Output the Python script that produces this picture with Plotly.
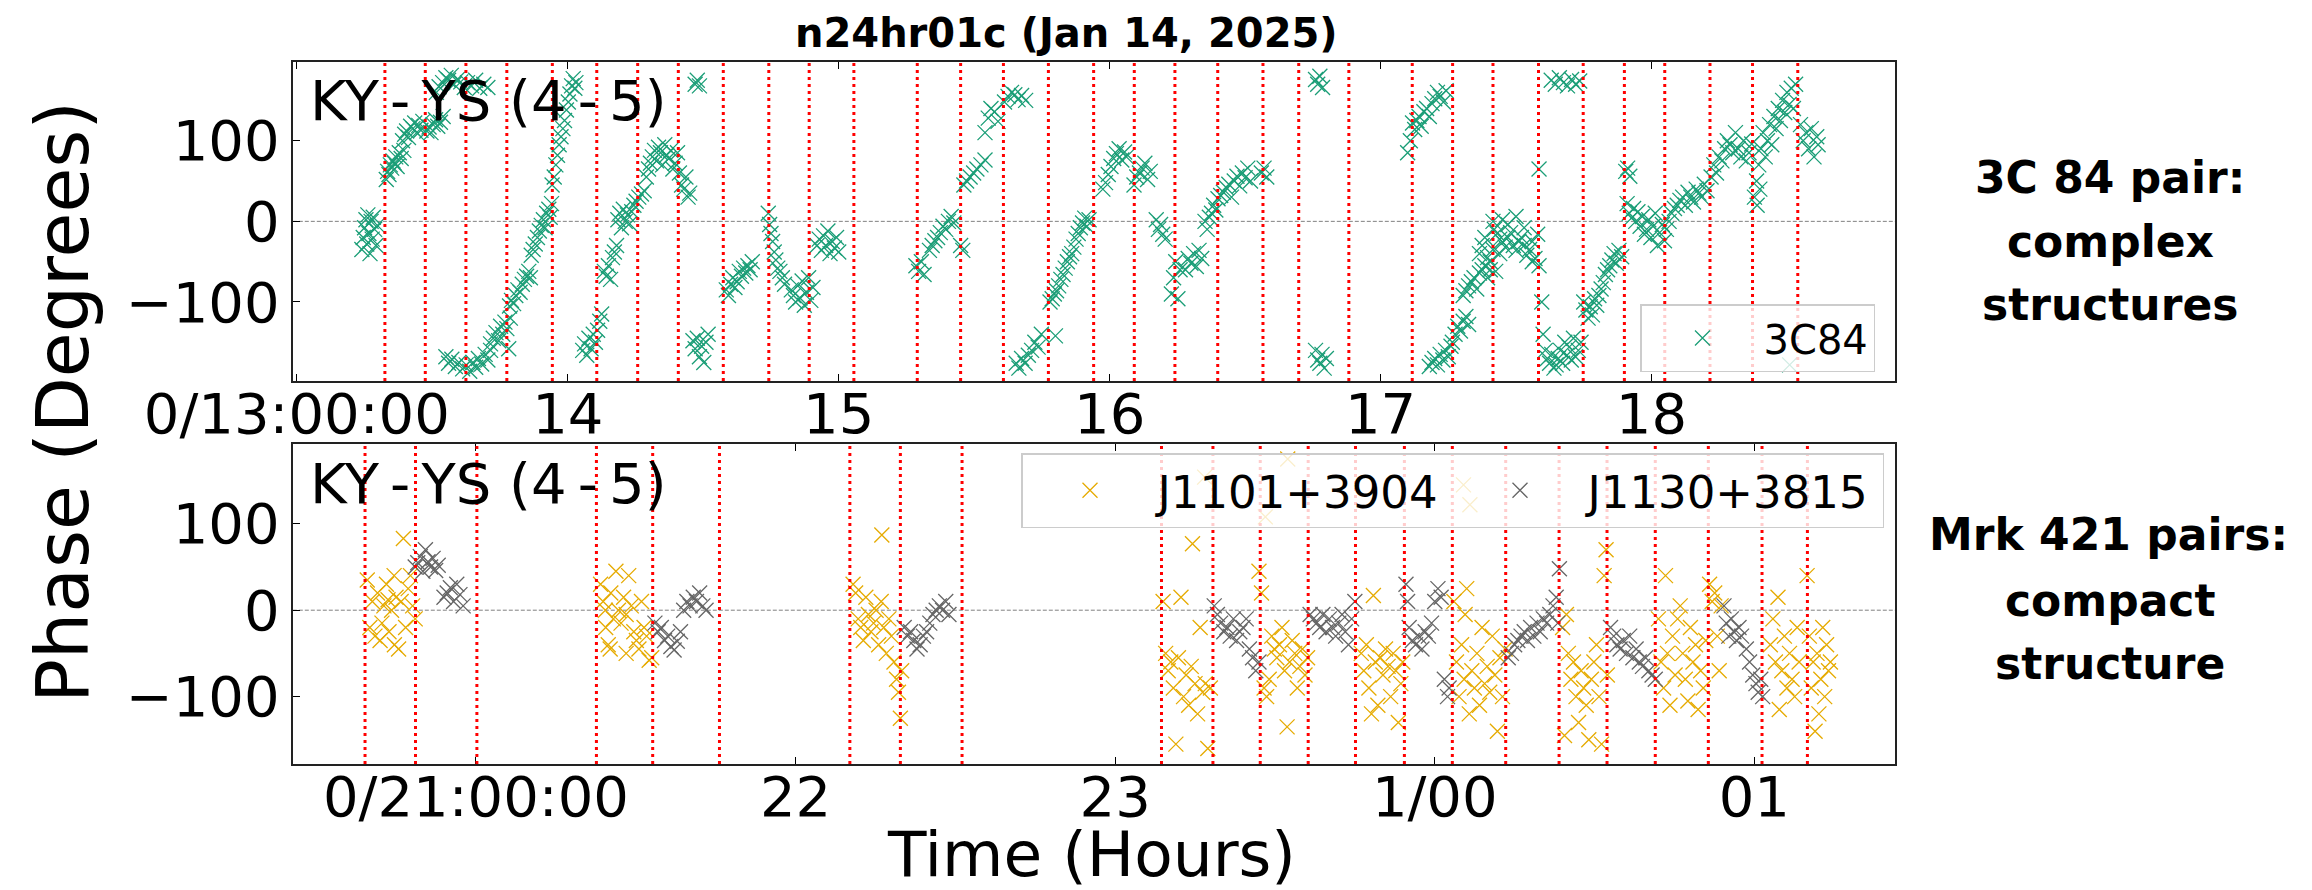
import plotly.graph_objects as go

W, H = 2312, 890

# ---------------- data ----------------
top_tickvals = [13, 14, 15, 16, 17, 18]
top_ticktext = ["0/13:00:00", "14", "15", "16", "17", "18"]
bot_tickvals = [21, 22, 23, 24, 25]
bot_ticktext = ["0/21:00:00", "22", "23", "1/00", "01"]
y_tickvals = [-100, 0, 100]
y_ticktext = ["\u2212100", "0", "100"]

top_scan_lines = [13.325, 13.474, 13.624, 13.775, 13.943, 14.107, 14.258, 14.408, 14.574, 14.742, 14.891,
                  15.056, 15.290, 15.450, 15.608, 15.774, 15.941, 16.091, 16.241, 16.399, 16.566, 16.698, 16.883,
                  17.117, 17.266, 17.415, 17.583, 17.748, 17.900, 18.049, 18.216, 18.373, 18.540]
bot_scan_lines = [20.653, 20.811, 21.003, 21.377, 21.553, 21.762, 22.170, 22.328, 22.521, 23.145, 23.306,
                  23.454, 23.604, 23.752, 23.905, 24.055, 24.222, 24.389, 24.539, 24.690, 24.856, 25.024, 25.166]

c84_points = [
    (13.240,-35),(13.245,-20),(13.250,-8),(13.255,2),(13.258,-28),(13.262,8),(13.266,-15),(13.270,-40),(13.274,0),(13.278,-22),(13.282,5),(13.287,-10),(13.292,-30),(13.297,-5),
    (13.330,52),(13.335,62),(13.340,58),(13.345,70),(13.350,66),(13.355,75),(13.360,72),(13.365,80),(13.370,68),(13.378,85),(13.385,78),(13.395,88),
    (13.390,100),(13.398,108),(13.405,112),(13.412,104),(13.420,118),(13.428,115),(13.435,122),(13.442,110),(13.450,119),(13.458,113),(13.465,124),
    (13.480,112),(13.488,117),(13.495,110),(13.503,120),(13.512,126),(13.520,118),(13.530,123),(13.540,130),
    (13.515,160),(13.525,167),(13.538,172),(13.550,178),(13.560,175),(13.570,181),(13.580,170),(13.592,176),(13.605,173),(13.618,166),(13.630,172),(13.645,168),(13.660,175),(13.675,165),(13.690,170),(13.705,166),
    (13.550,-168),(13.560,-176),(13.572,-171),(13.585,-180),(13.598,-175),(13.612,-183),(13.625,-178),(13.638,-186),(13.650,-175),(13.660,-181),(13.670,-170),(13.682,-177),(13.695,-165),(13.705,-172),(13.715,-160),
    (13.715,-152),(13.725,-145),(13.735,-138),(13.745,-148),(13.752,-130),(13.760,-140),(13.768,-125),(13.775,-133),(13.782,-158),(13.788,-120),
    (13.785,-105),(13.792,-98),(13.800,-102),(13.808,-92),(13.816,-85),(13.824,-88),(13.832,-78),(13.840,-72),(13.848,-68),(13.856,-62),(13.862,-70),
    (13.865,-42),(13.872,-35),(13.880,-28),(13.888,-20),(13.895,-12),(13.902,-5),(13.910,2),(13.916,-8),(13.922,10),(13.930,15),(13.935,5),(13.940,22),
    (13.942,45),(13.950,55),(13.956,70),(13.962,82),(13.968,95),(13.975,105),(13.982,115),(13.988,125),(13.995,138),(14.002,148),(14.008,158),(14.014,168),(14.020,177),(14.026,165),(14.030,172),
    (14.055,-160),(14.062,-152),(14.070,-166),(14.078,-145),(14.086,-158),(14.094,-140),(14.102,-150),(14.110,-135),(14.118,-124),(14.125,-115),
    (14.135,-62),(14.142,-68),(14.150,-55),(14.158,-72),(14.165,-45),(14.172,-38),(14.180,-30),
    (14.185,2),(14.192,10),(14.198,-8),(14.205,15),(14.212,0),(14.220,8),(14.228,-3),(14.236,12),(14.244,20),
    (14.252,25),(14.262,30),(14.272,34),(14.282,38),
    (14.290,55),(14.298,65),(14.305,72),(14.312,80),(14.320,88),(14.328,75),(14.335,92),(14.342,85),(14.350,70),(14.358,95),(14.365,82),(14.372,78),(14.380,88),(14.388,65),(14.396,72),
    (14.405,85),(14.412,60),(14.420,45),(14.428,40),(14.436,55),(14.444,30),(14.450,35),
    (14.470,170),(14.478,175),(14.486,168),
    (14.462,-148),(14.470,-158),(14.478,-145),(14.486,-168),(14.494,-155),(14.502,-175),(14.510,-150),(14.518,-140),
    (14.585,-85),(14.593,-92),(14.601,-78),(14.609,-70),(14.617,-82),(14.625,-75),(14.633,-62),(14.641,-68),(14.649,-58),(14.657,-64),(14.665,-55),(14.673,-60),(14.681,-50),
    (14.740,10),(14.745,-4),(14.750,-15),(14.756,-25),(14.762,-38),(14.768,-48),(14.775,-58),(14.783,-62),(14.792,-70),(14.800,-78),
    (14.825,-85),(14.833,-92),(14.841,-100),(14.849,-80),(14.857,-95),(14.865,-74),(14.873,-104),(14.881,-88),(14.889,-70),(14.897,-98),(14.905,-82),
    (14.920,-30),(14.928,-22),(14.936,-36),(14.944,-18),(14.952,-30),(14.960,-12),(14.968,-40),(14.976,-25),(14.984,-33),(14.992,-20),(15.000,-38),
    (15.285,-55),(15.295,-62),(15.305,-50),(15.315,-66),
    (15.335,-36),(15.345,-30),(15.355,-24),(15.365,-20),(15.375,-14),(15.385,-6),(15.395,-10),(15.405,0),(15.415,6),(15.425,-2),
    (15.450,-30),(15.458,-36),
    (15.462,45),(15.472,50),(15.485,55),(15.498,60),(15.510,65),(15.525,70),(15.540,76),
    (15.540,110),(15.552,128),(15.562,140),(15.575,136),(15.588,124),
    (15.612,148),(15.625,155),(15.638,160),(15.650,157),(15.662,151),(15.675,156),(15.690,150),
    (15.655,-176),(15.665,-182),(15.675,-170),(15.688,-176),(15.700,-166),(15.712,-160),(15.724,-150),(15.736,-156),(15.748,-140),(15.800,-142),
    (15.780,-100),(15.788,-96),(15.796,-90),(15.804,-86),(15.812,-80),(15.820,-72),(15.828,-66),(15.836,-58),(15.844,-50),(15.852,-44),(15.860,-40),(15.868,-32),(15.876,-22),(15.884,-15),(15.892,-8),(15.900,-2),(15.908,4),(15.916,-6),(15.924,2),
    (15.975,40),(15.985,48),(15.995,58),(16.005,68),(16.015,78),(16.025,84),(16.035,90),(16.045,76),(16.055,86),(16.062,80),
    (16.090,45),(16.100,55),(16.110,60),(16.120,66),(16.130,72),(16.140,52),(16.150,62),
    (16.172,2),(16.180,-10),(16.188,-4),(16.196,-16),(16.205,-22),
    (16.228,-90),(16.236,-70),(16.244,-50),(16.252,-96),(16.260,-60),
    (16.280,-60),(16.290,-46),(16.300,-52),(16.310,-40),(16.320,-56),(16.330,-36),(16.340,-46),
    (16.352,0),(16.360,-10),(16.368,5),(16.376,10),(16.384,20),(16.392,14),(16.400,28),(16.410,32),
    (16.420,36),(16.430,42),(16.440,46),(16.450,30),(16.460,50),(16.470,56),(16.480,44),(16.490,60),(16.500,54),(16.510,66),(16.520,50),
    (16.560,60),(16.570,66),(16.580,55),
    (16.760,176),(16.768,170),(16.776,180),(16.786,166),
    (16.760,-160),(16.768,-172),(16.776,-176),(16.784,-165),(16.792,-182),(16.800,-170),
    (17.100,85),(17.110,100),(17.118,122),(17.126,114),(17.134,125),(17.142,130),(17.150,118),(17.160,136),(17.170,140),(17.180,130),(17.190,146),(17.200,152),(17.210,160),(17.220,155),(17.232,148),(17.242,162),
    (17.180,-180),(17.190,-175),(17.200,-170),(17.210,-178),(17.220,-165),(17.230,-172),(17.240,-160),(17.250,-168),(17.260,-155),
    (17.265,-150),(17.275,-140),(17.285,-130),(17.295,-136),(17.305,-124),(17.315,-118),(17.325,-128),
    (17.305,-92),(17.315,-86),(17.325,-80),(17.335,-75),(17.345,-70),(17.355,-84),(17.365,-64),(17.375,-60),(17.385,-55),(17.395,-70),(17.405,-60),
    (17.365,-40),(17.375,-30),(17.385,-20),(17.395,-45),(17.405,-50),(17.415,-35),(17.425,-62),(17.415,0),
    (17.420,-10),(17.430,-15),(17.440,-22),(17.450,-26),(17.460,-32),(17.470,-20),(17.480,-14),(17.490,-30),(17.500,-36),(17.510,-25),(17.520,-20),(17.530,-30),(17.540,-42),(17.550,-35),(17.560,-25),(17.570,-46),(17.580,-16),(17.450,2),(17.500,6),(17.470,-4),(17.440,-40),(17.530,-8),(17.560,-50),
    (17.585,65),(17.585,-55),(17.595,-100),
    (17.600,-140),(17.608,-160),(17.616,-170),(17.624,-176),(17.632,-165),(17.640,-182),(17.648,-178),(17.656,-170),(17.664,-160),(17.672,-176),(17.680,-150),(17.688,-166),(17.696,-156),(17.704,-172),(17.712,-145),(17.720,-168),(17.730,-160),(17.740,-150),
    (17.630,175),(17.645,170),(17.660,178),(17.675,172),(17.690,168),(17.705,176),(17.720,170),(17.735,174),
    (17.750,-100),(17.758,-110),(17.766,-120),(17.774,-106),(17.782,-116),(17.790,-96),(17.798,-104),(17.806,-92),(17.814,-84),(17.822,-76),(17.830,-66),(17.838,-60),(17.846,-55),(17.854,-48),(17.862,-40),(17.870,-52),(17.880,-36),(17.890,-44),
    (17.905,62),(17.912,66),(17.920,56),
    (17.910,22),(17.918,10),(17.926,4),(17.934,16),(17.942,0),(17.950,12),(17.958,-6),(17.966,6),(17.974,-16),(17.982,-10),(17.990,2),(17.998,-20),(18.006,-6),(18.014,10),(18.022,-30),(18.030,-14),(18.040,-4),(18.048,-24),
    (18.055,-10),(18.065,0),(18.075,10),(18.085,16),(18.095,20),(18.105,26),(18.115,30),(18.125,20),(18.135,36),(18.145,30),(18.155,24),(18.165,40),(18.175,35),(18.185,30),(18.195,46),(18.205,38),
    (18.220,55),(18.230,70),(18.240,60),(18.250,80),(18.260,75),(18.270,90),(18.280,100),(18.290,95),(18.300,85),(18.310,110),(18.320,90),(18.330,80),(18.340,100),(18.350,75),(18.360,85),(18.370,96),
    (18.380,30),(18.388,50),(18.396,70),(18.404,90),(18.412,110),(18.420,80),(18.428,100),(18.436,120),(18.444,95),(18.452,130),(18.460,115),(18.468,140),(18.476,125),(18.484,150),(18.492,135),(18.500,160),(18.508,145),(18.516,165),(18.524,140),(18.532,170),(18.390,20),(18.400,40),
    (18.550,120),(18.560,100),(18.570,110),(18.580,90),(18.590,115),(18.600,80),(18.610,105),(18.615,95),
    (18.510,-178),
]

j1101_points = [
    (20.660,35),(20.668,-20),(20.676,10),(20.684,-30),(20.692,20),(20.700,-35),(20.706,-15),(20.712,5),(20.720,30),(20.728,-25),(20.736,0),(20.744,40),(20.750,15),(20.758,-45),(20.766,10),(20.773,83),(20.780,-20),(20.788,25),(20.795,40),(20.802,5),(20.810,-10),(20.745,-40),(20.725,12),
    (21.390,30),(21.398,10),(21.406,-20),(21.414,-40),(21.422,20),(21.430,-10),(21.438,45),(21.446,0),(21.454,-15),(21.462,15),(21.470,-5),(21.478,40),(21.486,5),(21.494,-25),(21.502,-35),(21.510,-45),(21.518,10),(21.526,-20),(21.534,-30),(21.542,-58),(21.550,-55),(21.420,-45),(21.470,-50),(21.405,0),
    (22.180,30),(22.188,20),(22.196,-10),(22.204,-20),(22.212,-35),(22.220,15),(22.228,-5),(22.236,-25),(22.244,-15),(22.252,0),(22.260,-40),(22.268,10),(22.270,87),(22.276,-20),(22.284,-50),(22.292,-10),(22.300,-30),(22.308,-60),(22.316,-80),(22.322,-95),(22.328,-125),(22.332,-70),
    (23.150,10),(23.158,-50),(23.166,-70),(23.174,-60),(23.182,-90),(23.190,-155),(23.198,-55),(23.206,15),(23.214,-100),(23.222,-75),(23.230,-110),(23.238,-65),(23.242,77),(23.250,-85),(23.258,-120),(23.266,-20),(23.274,-95),(23.282,-85),(23.290,-160),(23.298,-90),(23.280,154),
    (23.450,45),(23.458,20),(23.466,-90),(23.474,-100),(23.482,-80),(23.490,-30),(23.498,-45),(23.506,-55),(23.514,-40),(23.522,-20),(23.530,-70),(23.538,-135),(23.546,-60),(23.554,-35),(23.562,-50),(23.570,-90),(23.578,-65),(23.586,-45),(23.594,-75),(23.602,-55),(23.470,108),(23.540,175),
    (23.770,-50),(23.778,-70),(23.786,-40),(23.794,-90),(23.802,-120),(23.808,17),(23.814,-60),(23.822,-110),(23.830,-55),(23.838,-75),(23.846,-45),(23.854,-65),(23.862,-100),(23.870,-50),(23.878,-70),(23.886,-130),(23.894,-85),(23.900,-60),
    (24.060,10),(24.068,-60),(24.076,-100),(24.084,-40),(24.092,-80),(24.095,-5),(24.100,25),(24.108,-120),(24.116,-70),(24.124,-90),(24.132,-50),(24.140,-110),(24.148,-20),(24.156,-85),(24.164,-65),(24.172,-95),(24.180,-30),(24.188,-75),(24.196,-140),(24.204,-55),(24.212,-100),(24.220,-45),(24.090,145),(24.110,122),
    (24.400,-20),(24.406,-145),(24.412,-5),(24.418,-50),(24.426,-80),(24.434,-60),(24.442,-100),(24.450,-130),(24.458,-70),(24.466,-90),(24.474,-110),(24.482,-150),(24.490,-80),(24.498,-60),(24.506,-40),(24.514,-100),(24.522,-155),(24.530,40),(24.536,70),(24.540,-75),
    (24.700,-10),(24.708,-60),(24.716,-90),(24.722,40),(24.728,-50),(24.736,-110),(24.744,-30),(24.752,-75),(24.760,-10),(24.768,5),(24.776,-50),(24.784,-80),(24.792,-105),(24.800,-20),(24.808,-60),(24.816,-40),(24.824,-115),(24.832,-70),(24.840,-90),(24.848,-35),
    (24.860,30),(24.868,10),(24.876,20),(24.884,-30),(24.890,-70),(24.896,5),
    (25.050,-40),(25.058,-10),(25.066,-60),(25.074,15),(25.078,-115),(25.086,-70),(25.094,-30),(25.102,-90),(25.110,-50),(25.118,-80),(25.126,-100),(25.134,-20),(25.140,-60),
    (25.165,40),(25.172,-30),(25.178,-90),(25.184,-60),(25.190,-140),(25.196,-50),(25.202,-120),(25.208,-80),(25.214,-20),(25.220,-100),(25.226,-40),(25.232,-70),(25.238,-60),
]

j1130_points = [
    (20.810,50),(20.818,55),(20.826,62),(20.834,45),(20.842,70),(20.850,56),(20.858,50),(20.866,60),(20.874,46),(20.882,52),
    (20.900,15),(20.910,20),(20.920,26),(20.930,10),(20.940,30),(20.950,18),(20.960,5),
    (21.560,-15),(21.570,-25),(21.580,-20),(21.590,-35),(21.600,-30),(21.610,-42),(21.620,-46),(21.630,-36),(21.640,-25),
    (21.650,0),(21.660,10),(21.670,5),(21.680,15),(21.690,10),(21.700,20),(21.710,5),(21.720,0),
    (22.340,-20),(22.350,-30),(22.360,-25),(22.370,-35),(22.380,-45),(22.390,-40),(22.400,-30),(22.410,-25),(22.420,-15),(22.430,-5),(22.440,0),(22.450,5),(22.460,0),(22.470,10),(22.480,-5),
    (23.310,5),(23.320,-5),(23.330,-15),(23.340,-25),(23.350,-20),(23.360,-30),(23.370,-10),(23.380,-35),(23.390,-25),(23.400,-20),(23.410,-10),(23.420,-45),(23.430,-55),(23.440,-70),(23.450,-60),
    (23.610,-5),(23.620,-10),(23.630,-15),(23.640,-20),(23.650,-5),(23.660,-25),(23.670,-10),(23.680,-20),(23.690,-30),(23.700,-15),(23.710,-5),(23.720,-25),(23.730,-40),(23.740,-10),(23.750,10),
    (23.910,30),(23.915,10),(23.920,-20),(23.930,-35),(23.940,-40),(23.950,-30),(23.960,-45),(23.970,-25),(23.980,-30),(23.990,-15),(24.000,10),(24.010,25),(24.020,15),(24.030,-80),(24.040,-100),(24.045,-90),
    (24.230,-55),(24.240,-50),(24.250,-40),(24.260,-35),(24.270,-30),(24.280,-25),(24.290,-35),(24.300,-20),(24.310,-30),(24.320,-15),(24.330,-25),(24.340,-10),(24.350,-15),(24.360,-5),(24.370,5),(24.380,15),(24.385,-15),(24.390,48),
    (24.550,-20),(24.560,-30),(24.570,-40),(24.580,-45),(24.590,-35),(24.600,-50),(24.610,-30),(24.620,-55),(24.630,-45),(24.640,-60),(24.650,-65),(24.660,-55),(24.670,-70),(24.680,-75),(24.690,-80),
    (24.905,5),(24.912,-15),(24.920,-30),(24.928,-10),(24.936,-25),(24.944,-35),(24.952,-20),(24.960,-30),(24.975,-45),(24.985,-60),(24.995,-75),(25.005,-85),(25.012,-95),(25.020,-80),(25.026,-100),
]

# ---------------- figure ----------------
FONT = "DejaVu Sans"
XDOM = [292.8 / W, 1895.3 / W]
TOP_DOM = [1 - 381 / H, 1 - 61.7 / H]
BOT_DOM = [1 - 764 / H, 1 - 444.3 / H]


def px(x):
    return x / W


def py(y):
    return 1 - y / H


def marker(color):
    return dict(symbol="x-thin", size=15, color=color, line=dict(width=1.3, color=color))


fig = go.Figure()
fig.add_trace(go.Scatter(x=[p[0] for p in c84_points], y=[p[1] for p in c84_points], mode="markers",
                         name="3C84", marker=marker("#1b9e77"), xaxis="x", yaxis="y", legend="legend"))
fig.add_trace(go.Scatter(x=[p[0] for p in j1101_points], y=[p[1] for p in j1101_points], mode="markers",
                         name="J1101+3904", marker=marker("#e6ab02"), xaxis="x2", yaxis="y2", legend="legend2"))
fig.add_trace(go.Scatter(x=[p[0] for p in j1130_points], y=[p[1] for p in j1130_points], mode="markers",
                         name="J1130+3815", marker=marker("#666666"), xaxis="x2", yaxis="y2", legend="legend2"))

axis_common = dict(showgrid=False, zeroline=False, ticks="inside", ticklen=7, tickwidth=1.3, tickcolor="black",
                   tickfont=dict(family=FONT, size=56, color="black"), showline=True, automargin=False)

shapes = []
for v in top_scan_lines:
    shapes.append(dict(type="line", xref="x", yref="y domain", x0=v, x1=v, y0=0, y1=1, layer="above",
                       line=dict(color="red", width=3, dash="3px,4px")))
for v in bot_scan_lines:
    shapes.append(dict(type="line", xref="x2", yref="y2 domain", x0=v, x1=v, y0=0, y1=1, layer="above",
                       line=dict(color="red", width=3, dash="3px,4px")))
for xr, yr in (("x domain", "y"), ("x2 domain", "y2")):
    shapes.append(dict(type="line", xref=xr, yref=yr, x0=0, x1=1, y0=0, y1=0, layer="below",
                       line=dict(color="#808080", width=1, dash="4px,2px")))

annotations = [
    dict(text="<b>n24hr01c (Jan 14, 2025)</b>", x=px(1066), y=py(33), font=dict(size=40)),
    dict(text="KY\u2009-\u2009YS (4\u2009-\u20095)", x=px(308), y=py(100), xanchor="left", font=dict(size=56)),
    dict(text="KY\u2009-\u2009YS (4\u2009-\u20095)", x=px(308), y=py(483), xanchor="left", font=dict(size=56)),
    dict(text="Phase (Degrees)", x=px(62), y=py(402), textangle=-90, font=dict(size=73)),
    dict(text="Time (Hours)", x=px(1091), y=py(854), font=dict(size=63)),
    dict(text="<b>3C 84 pair:</b>", x=px(2110), y=py(177), font=dict(size=44)),
    dict(text="<b>complex</b>", x=px(2110), y=py(242), font=dict(size=44)),
    dict(text="<b>structures</b>", x=px(2110), y=py(304), font=dict(size=44)),
    dict(text="<b>Mrk 421 pairs:</b>", x=px(2108), y=py(534), font=dict(size=44)),
    dict(text="<b>compact</b>", x=px(2110), y=py(600), font=dict(size=44)),
    dict(text="<b>structure</b>", x=px(2110), y=py(663), font=dict(size=44)),
]
for a in annotations:
    a.setdefault("xanchor", "center")
    a.update(xref="paper", yref="paper", yanchor="middle", showarrow=False)
    a["font"] = dict(family=FONT, color="black", **a["font"])

fig.update_layout(
    width=W, height=H, margin=dict(l=0, r=0, t=0, b=0, autoexpand=False),
    paper_bgcolor="white", plot_bgcolor="white",
    font=dict(family=FONT, color="black"),
    xaxis=dict(domain=XDOM, anchor="y", range=[12.985, 18.900], tickvals=top_tickvals, ticktext=top_ticktext,
               mirror="ticks", linecolor="#222222", linewidth=2, ticklabelstandoff=-17, **axis_common),
    yaxis=dict(domain=TOP_DOM, anchor="x", range=[-198, 198], tickvals=y_tickvals, ticktext=y_ticktext,
               mirror=True, linecolor="#222222", linewidth=2, **axis_common),
    xaxis2=dict(domain=XDOM, anchor="y2", range=[20.427, 25.441], tickvals=bot_tickvals, ticktext=bot_ticktext,
                mirror="ticks", linecolor="#222222", linewidth=2, ticklabelstandoff=-17, **axis_common),
    yaxis2=dict(domain=BOT_DOM, anchor="x2", range=[-178, 192], tickvals=y_tickvals, ticktext=y_ticktext,
                mirror=True, linecolor="#222222", linewidth=2, **axis_common),
    legend=dict(x=px(1640), y=py(304), xanchor="left", yanchor="top", bgcolor="rgba(255,255,255,0.8)",
                bordercolor="#cccccc", borderwidth=1.5, font=dict(family=FONT, size=40, color="black"),
                itemwidth=112),
    legend2=dict(x=px(1021), y=py(453), xanchor="left", yanchor="top", orientation="h",
                 bgcolor="rgba(255,255,255,0.8)", bordercolor="#cccccc", borderwidth=1.5,
                 font=dict(family=FONT, size=45, color="black"), itemwidth=125, entrywidth=290),
    shapes=shapes, annotations=annotations, showlegend=True,
)

fig.write_html("out.html")
